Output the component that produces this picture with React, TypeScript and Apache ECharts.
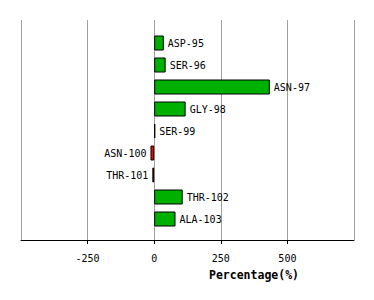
import React, { useEffect, useRef } from "react";
import * as echarts from "echarts";

const categories = ["ASP-95", "SER-96", "ASN-97", "GLY-98", "SER-99", "ASN-100", "THR-101", "THR-102", "ALA-103"];
const values = [36, 43, 434, 118, 4, -14, -7, 107, 80];
const xTicks = [-500, -250, 0, 250, 500, 750];

export default function App() {
  const ref = useRef<HTMLDivElement>(null);
  useEffect(() => {
    if (!ref.current) return;
    const chart = echarts.init(ref.current, null, { renderer: "svg" });
    const mono = "DejaVu Sans Mono";
    const data = values.map((v, i) => ({
      value: v,
      itemStyle: { color: v >= 0 ? "#00b000" : "#ff0000" },
      label: {
        show: true,
        position: v >= 0 ? "right" : "left",
        distance: 4,
        formatter: categories[i],
        color: "#000",
        fontFamily: mono,
        fontSize: 10,
      },
    }));
    chart.setOption({
      animation: false,
      grid: [
        { left: 21, width: 333, top: 20, height: 220 },
        { left: 21, width: 333, top: 32, height: 198 },
      ],
      xAxis: [
        {
          gridIndex: 0,
          type: "value",
          min: xTicks[0],
          max: xTicks[xTicks.length - 1],
          interval: 250,
          axisLine: { show: true, onZero: false, lineStyle: { color: "#000", width: 1 } },
          axisTick: { show: true, length: 4, lineStyle: { color: "#000" } },
          splitLine: { show: true, lineStyle: { color: "#a0a0a0", width: 1 } },
          axisLabel: {
            showMinLabel: false,
            showMaxLabel: false,
            color: "#000",
            fontFamily: mono,
            fontSize: 10,
            margin: 13,
          },
        },
        {
          gridIndex: 1,
          type: "value",
          min: xTicks[0],
          max: xTicks[xTicks.length - 1],
          show: false,
          splitLine: { show: false },
        },
      ],
      yAxis: [
        { gridIndex: 0, type: "value", show: false, min: 0, max: 1, splitLine: { show: false } },
        { gridIndex: 1, type: "category", data: categories, inverse: true, show: false },
      ],
      series: [
        {
          type: "bar",
          xAxisIndex: 1,
          yAxisIndex: 1,
          barWidth: 15,
          data,
          itemStyle: { borderColor: "#000", borderWidth: 1 },
        },
      ],
      graphic: [
        {
          type: "text",
          x: 254,
          y: 275,
          style: {
            text: "Percentage(%)",
            fontFamily: mono,
            fontWeight: "bold",
            fontSize: 11.5,
            fill: "#000",
            textAlign: "center",
            textVerticalAlign: "middle",
          },
        },
      ],
    });
    return () => chart.dispose();
  }, []);
  return <div ref={ref} style={{ width: 374, height: 300, position: "absolute", left: 0, top: 0 }} />;
}
